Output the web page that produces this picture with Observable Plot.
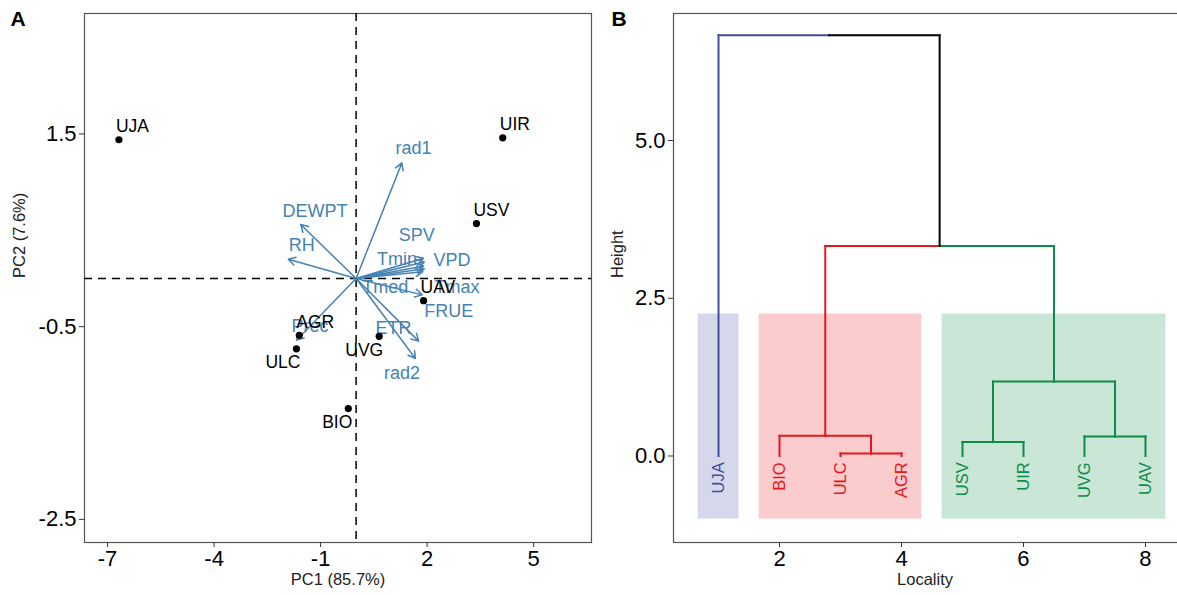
<!DOCTYPE html>
<html><head><meta charset="utf-8">
<script src="https://cdn.jsdelivr.net/npm/d3@7"></script>
<script src="https://cdn.jsdelivr.net/npm/@observablehq/plot@0.6"></script>
<style>
html,body{margin:0;padding:0;background:#fff;}
#wrap{display:flex;width:1177px;height:595px;overflow:hidden;}
#wrap > *{flex-shrink:0;}
</style></head><body><div id="wrap"></div>
<script>
// ---------- Panel A: PCA biplot ----------
const localities = ["UJA","UIR","USV","UAV","AGR","ULC","UVG","BIO"];
const pc1 = [-6.68, 4.13, 3.39, 1.90, -1.60, -1.68, 0.65, -0.22];
const pc2 = [1.44, 1.46, 0.57, -0.23, -0.59, -0.73, -0.60, -1.35];
const labelsBelowLeft = ["ULC","UVG","BIO"];

const variables = ["rad1","DEWPT","RH","SPV","Tmin","VPD","Tmed","Tmax","FRUE","Prec","ETR","rad2"];
const loadX = [1.29,-1.56,-1.91,1.90,1.90,1.92,1.88,1.92,1.86,-1.68,1.76,1.67];
const loadY = [1.20,0.56,0.20,0.13,0.21,0.17,0.07,0.10,-0.17,-0.64,-0.65,-0.83];
const varLabelX = [1.62,-1.16,-1.53,1.71,1.15,2.70,0.82,2.84,2.61,-1.30,1.05,1.29];
const varLabelY = [1.35,0.70,0.34,0.45,0.20,0.19,-0.09,-0.09,-0.34,-0.50,-0.52,-0.98];

const pc1Ticks = [-7,-4,-1,2,5];
const pc2Ticks = [1.5,-0.5,-2.5];

// ---------- Panel B: dendrogram ----------
const leaves = ["UJA","BIO","ULC","AGR","USV","UIR","UVG","UAV"];
const leafCluster = ["c1","c2","c2","c2","c3","c3","c3","c3"];
// hclust-style merge table (negative = leaf index, positive = earlier merge)
const mergeA = [-3,-5,-2,-7,2,3,-1];
const mergeB = [-4,-6,1,-8,4,5,6];
const mergeHeight = [0.04,0.22,0.32,0.31,1.18,3.33,6.67];
const clusterNames = ["c1","c2","c3"];
const clusterColors = ["#404DA0","#E8151D","#0C8C46"];
const localityTicks = [2,4,6,8];
const heightTicks = [0,2.5,5];

const FONT = "'Liberation Sans', Arial, Helvetica, sans-serif";
const blue = "#4682B4";

// ---- build panel A ----
const pts = localities.map((n,i)=>({n, x:pc1[i], y:pc2[i]}));
const vars = variables.map((n,i)=>({n, x:loadX[i], y:loadY[i], lx:varLabelX[i], ly:varLabelY[i]}));

const plotA = Plot.plot({
  width: 600, height: 595,
  marginLeft: 84, marginRight: 9, marginTop: 13, marginBottom: 53,
  style: {fontFamily: FONT, fontSize: "22px", color: "black", background: "white", maxWidth: "none", overflow: "visible"},
  x: {domain: [-7.65, 6.63]},
  y: {domain: [-2.74, 2.75]},
  marks: [
    Plot.frame({stroke: "#555", strokeWidth: 1.2}),
    Plot.ruleX([0], {stroke: "black", strokeWidth: 1.5, strokeDasharray: "8,6"}),
    Plot.ruleY([0], {stroke: "black", strokeWidth: 1.5, strokeDasharray: "8,6"}),
    Plot.axisX({ticks: pc1Ticks, tickFormat: d => String(d), tickSize: 5, tickPadding: 3, stroke: "#333", fill: "black", fontSize: 22, label: null}),
    Plot.axisY({ticks: pc2Ticks, tickFormat: d => String(d), tickSize: 5, tickPadding: 3, stroke: "#333", fill: "black", fontSize: 22, label: null}),
    Plot.arrow(vars, {x1: () => 0, y1: () => 0, x2: "x", y2: "y", stroke: blue, strokeWidth: 1.5, headLength: 8, headAngle: 60}),
    Plot.text(vars, {x: "lx", y: "ly", text: "n", fill: blue, fontSize: 18}),
    Plot.dot(pts, {x: "x", y: "y", r: 3.6, fill: "black", stroke: "none"}),
    Plot.text(pts.filter(d => !labelsBelowLeft.includes(d.n)), {x: "x", y: "y", text: "n", textAnchor: "start", dx: -3, dy: -13, fill: "black", fontSize: 17.5}),
    Plot.text(pts.filter(d => labelsBelowLeft.includes(d.n)), {x: "x", y: "y", text: "n", textAnchor: "end", dx: 4, dy: 14, fill: "black", fontSize: 17.5}),
    Plot.text(["PC1 (85.7%)"], {frameAnchor: "bottom", dy: 42, text: d => d, fontSize: 16.5, fill: "#222"}),
    Plot.text(["PC2 (7.6%)"], {frameAnchor: "left", dx: -65, rotate: -90, text: d => d, fontSize: 16.5, fill: "#222"}),
    Plot.text(["A"], {frameAnchor: "top-left", dx: -74, dy: -2, textAnchor: "start", lineAnchor: "top", text: d => d, fontSize: 21, fontWeight: "bold", fill: "black"})
  ]
});

// ---- build panel B ----
const colorOf = Object.fromEntries(clusterNames.map((c,i)=>[c, clusterColors[i]]));
const nodes = [];
function child(id){
  if (id < 0) { const i = -id - 1; return {x: i + 1, h: 0, cl: new Set([leafCluster[i]])}; }
  return nodes[id - 1];
}
const segs = [];
mergeA.forEach((a, k) => {
  const ca = child(a), cb = child(mergeB[k]);
  const h = mergeHeight[k];
  const x = (ca.x + cb.x) / 2;
  for (const c of [ca, cb]) {
    const col = c.cl.size === 1 ? colorOf[[...c.cl][0]] : "black";
    segs.push({x1: c.x, y1: c.h, x2: c.x, y2: h, col});
    segs.push({x1: c.x, y1: h, x2: x, y2: h, col});
  }
  nodes.push({x, h, cl: new Set([...ca.cl, ...cb.cl])});
});
const leafData = leaves.map((n,i)=>({n, x: i + 1, col: colorOf[leafCluster[i]]}));
const rects = clusterNames.map(c => {
  const xs = leafData.filter((d,i) => leafCluster[i] === c).map(d => d.x);
  return {x1: d3.min(xs) - 0.335, x2: d3.max(xs) + 0.335, y1: -1.0, y2: 2.25, col: colorOf[c]};
});

const plotB = Plot.plot({
  width: 580, height: 595,
  marginLeft: 73, marginRight: 0, marginTop: 13, marginBottom: 53,
  style: {fontFamily: FONT, fontSize: "22px", color: "black", background: "white", maxWidth: "none", overflow: "visible"},
  x: {domain: [0.262, 8.574]},
  y: {domain: [-1.371, 7.013]},
  marks: [
    Plot.frame({stroke: "#555", strokeWidth: 1.2}),
    Plot.rect(rects, {x1: "x1", x2: "x2", y1: "y1", y2: "y2", fill: d => d.col, fillOpacity: 0.22}),
    Plot.link(segs, {x1: "x1", y1: "y1", x2: "x2", y2: "y2", stroke: d => d.col, strokeWidth: 2, strokeLinecap: "square"}),
    Plot.text(leafData, {x: "x", y: () => -0.1, text: "n", rotate: -90, textAnchor: "end", fill: d => d.col, fontSize: 16.5}),
    Plot.axisX({ticks: localityTicks, tickFormat: d => String(d), tickSize: 5, tickPadding: 3, stroke: "#333", fill: "black", fontSize: 22, label: null}),
    Plot.axisY({ticks: heightTicks, tickFormat: d => d.toFixed(1), tickSize: 5, tickPadding: 3, stroke: "#333", fill: "black", fontSize: 22, label: null}),
    Plot.text(["Locality"], {frameAnchor: "bottom", dy: 42, dx: -2, text: d => d, fontSize: 16.5, fill: "#222"}),
    Plot.text(["Height"], {frameAnchor: "left", dx: -56, rotate: -90, text: d => d, fontSize: 16.5, fill: "#222"}),
    Plot.text(["B"], {frameAnchor: "top-left", dx: -62, dy: -2, textAnchor: "start", lineAnchor: "top", text: d => d, fontSize: 21, fontWeight: "bold", fill: "black"})
  ]
});

const wrap = document.getElementById("wrap");
wrap.appendChild(plotA);
wrap.appendChild(plotB);
</script>
</body></html>
